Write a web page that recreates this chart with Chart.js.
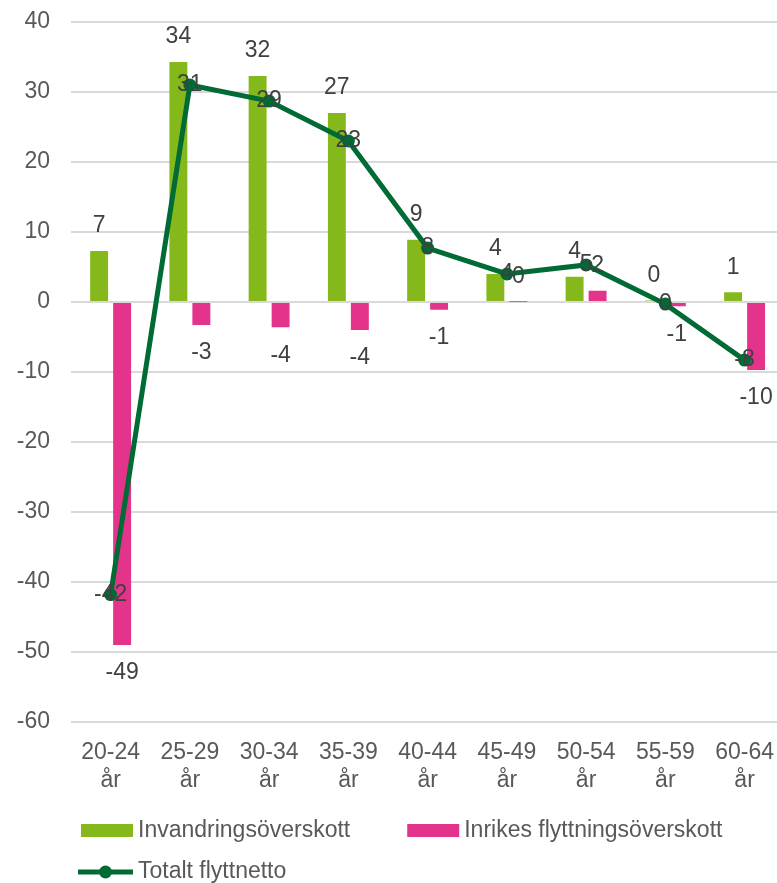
<!DOCTYPE html>
<html>
<head>
<meta charset="utf-8">
<script src="https://cdn.jsdelivr.net/npm/chart.js@4"></script>
<style>
  html, body { margin: 0; padding: 0; background: #fff; overflow: hidden; }
  #wrap { width: 791px; height: 883px; }
</style>
</head>
<body>
<div id="wrap"><canvas id="c" width="791" height="883" style="width:791px;height:883px"></canvas></div>
<script>
const categories = [["20-24","år"],["25-29","år"],["30-34","år"],["35-39","år"],["40-44","år"],["45-49","år"],["50-54","år"],["55-59","år"],["60-64","år"]];
const invandring = [7.3, 34.3, 32.3, 27.0, 8.9, 4.0, 3.6, 0.2, 1.4];
const inrikes = [-49.0, -3.3, -3.6, -4.0, -1.1, 0.05, 1.6, -0.6, -9.7];
const totalt = [-41.8, 31.0, 28.7, 23.0, 7.7, 4.0, 5.3, -0.3, -8.3];
const seriesNames = ["Invandringsöverskott", "Inrikes flyttningsöverskott", "Totalt flyttnetto"];
const yMin = -60, yMax = 40, yStep = 10;

const FONT = '"Liberation Sans", Arial, sans-serif';
const FS = 23;
const GREEN = '#85b81a', PINK = '#e3338b', DARK = '#006b35';
const TXT = '#595959', LBL = '#404040';

const labelPlugin = {
  id: 'valueLabels',
  afterDatasetsDraw(chart) {
    const ctx = chart.ctx;
    ctx.save();
    ctx.font = FS + 'px ' + FONT;
    ctx.fillStyle = LBL;
    ctx.textAlign = 'center';
    ctx.textBaseline = 'middle';
    chart.data.datasets.forEach((ds, i) => {
      const meta = chart.getDatasetMeta(i);
      meta.data.forEach((el, j) => {
        const v = ds.data[j];
        const txt = String(Math.round(v));
        let y = el.y;
        if (ds.type !== 'line') {
          y = v >= 0 ? el.y - 25 : el.y + 28;
        }
        ctx.fillText(txt === '-0' ? '0' : txt, el.x, y);
      });
    });
    ctx.restore();
  }
};

const legendPlugin = {
  id: 'customLegend',
  afterDraw(chart) {
    const ctx = chart.ctx;
    const byName = n => chart.data.datasets.find(d => d.label === n);
    const bars = [byName(seriesNames[0]), byName(seriesNames[1])];
    const line = byName(seriesNames[2]);
    ctx.save();
    ctx.font = FS + 'px ' + FONT;
    ctx.textBaseline = 'middle';
    ctx.textAlign = 'left';
    let x = 81;
    const y1 = 831;
    bars.forEach(d => {
      ctx.fillStyle = d.backgroundColor;
      ctx.fillRect(x, y1 - 7, 52, 13);
      ctx.fillStyle = TXT;
      ctx.fillText(d.label, x + 57, y1);
      x += 57 + ctx.measureText(d.label).width + 57;
    });
    const y2 = 872;
    ctx.strokeStyle = line.borderColor;
    ctx.lineWidth = 5;
    ctx.beginPath();
    ctx.moveTo(78, y2);
    ctx.lineTo(133, y2);
    ctx.stroke();
    ctx.fillStyle = line.borderColor;
    ctx.beginPath();
    ctx.arc(105.5, y2, 6.5, 0, Math.PI * 2);
    ctx.fill();
    ctx.fillStyle = TXT;
    ctx.fillText(line.label, 138, y2);
    ctx.restore();
  }
};

new Chart(document.getElementById('c'), {
  data: {
    labels: categories,
    datasets: [
      { type: 'line', label: seriesNames[2], data: totalt, borderColor: DARK, backgroundColor: DARK,
        borderWidth: 5, pointRadius: 6.5, pointBackgroundColor: DARK, pointBorderColor: DARK, pointBorderWidth: 0,
        tension: 0, order: 0 },
      { type: 'bar', label: seriesNames[0], data: invandring, backgroundColor: GREEN, order: 1,
        categoryPercentage: 0.58, barPercentage: 0.78 },
      { type: 'bar', label: seriesNames[1], data: inrikes, backgroundColor: PINK, order: 1,
        categoryPercentage: 0.58, barPercentage: 0.78 }
    ]
  },
  options: {
    responsive: false,
    animation: false,
    devicePixelRatio: 1,
    layout: { autoPadding: false, padding: { top: 22, right: 0, bottom: 0, left: 0 } },
    plugins: { legend: { display: false }, tooltip: { enabled: false } },
    scales: {
      x: {
        offset: true,
        grid: { display: false, drawTicks: false },
        border: { display: false },
        ticks: { color: TXT, font: { family: FONT, size: FS, lineHeight: 1.2 }, padding: 17, maxRotation: 0, autoSkip: false },
        afterFit(scale) { scale.height = 161; }
      },
      y: {
        min: yMin, max: yMax,
        grid: { color: '#d9d9d9', lineWidth: 2, drawTicks: false },
        border: { display: false },
        ticks: { stepSize: yStep, color: TXT, font: { family: FONT, size: FS }, padding: 21 },
        afterFit(scale) { scale.width = 71; scale.paddingTop = 0; scale.paddingBottom = 0; }
      }
    }
  },
  plugins: [labelPlugin, legendPlugin]
});
</script>
</body>
</html>
